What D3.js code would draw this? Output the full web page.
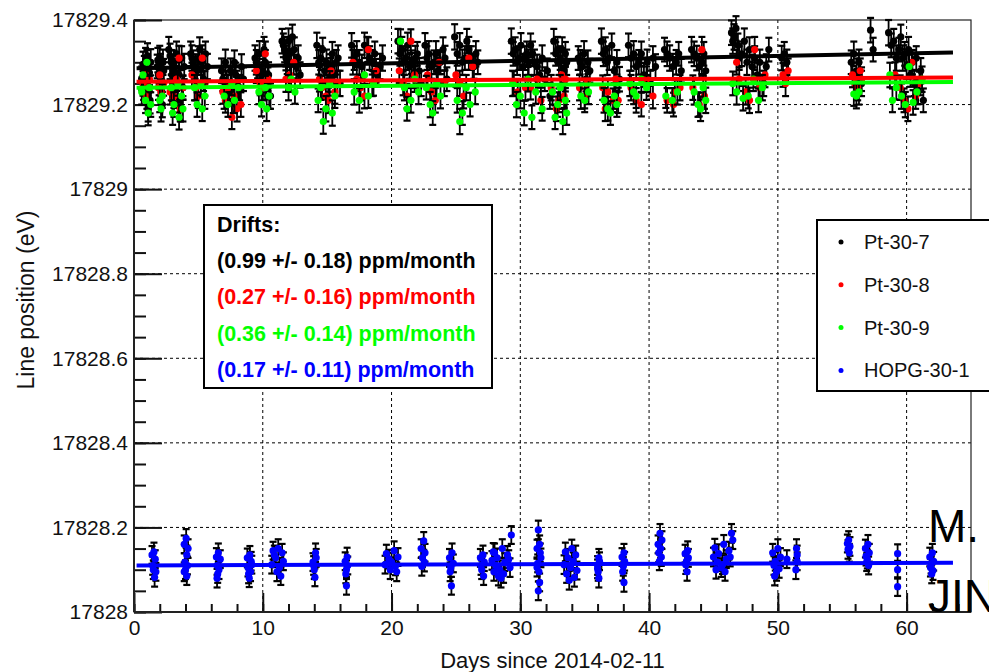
<!DOCTYPE html>
<html>
<head>
<meta charset="utf-8">
<script src="https://cdn.jsdelivr.net/npm/d3@7"></script>
<style>
  body { margin: 0; background: #fff; }
  svg { display: block; font-family: "Liberation Sans", Arial, sans-serif; }
</style>
</head>
<body>
<svg id="chart" width="989" height="672"></svg>
<script>
// Line positions: [day, eV above base, error in eV]
const PT_BASE = 17829;
const HOPG_BASE = 17828;

const pt307 = [
  [0.6,.262,.028],[0.8,.285,.030],[0.9,.305,.029],[1.0,.248,.028],[1.1,.190,.030],[1.2,.275,.029],[1.3,.300,.031],
  [0.7,.295,.030],[0.75,.240,.029],[0.95,.270,.028],[1.05,.315,.030],[1.15,.230,.029],[1.25,.210,.031],
  [1.8,.290,.028],[1.9,.270,.030],[2.0,.310,.029],[2.2,.200,.030],[2.3,.280,.028],
  [1.85,.305,.029],[1.95,.250,.028],[2.05,.290,.030],[2.15,.230,.029],[2.25,.300,.030],
  [2.7,.330,.030],[2.9,.300,.029],[3.0,.280,.028],[3.2,.250,.030],[3.4,.210,.029],[3.6,.190,.030],[3.7,.310,.028],[3.9,.290,.030],
  [2.8,.315,.029],[2.95,.270,.030],[3.1,.300,.028],[3.3,.320,.029],[3.5,.270,.030],[3.8,.240,.029],
  [4.4,.320,.029],[4.6,.300,.028],[4.9,.280,.030],[5.1,.330,.029],[5.4,.260,.028],[5.7,.290,.030],
  [4.5,.310,.030],[4.75,.290,.029],[5.0,.310,.028],[5.25,.300,.030],[5.55,.320,.029],
  [6.8,.280,.029],[7.1,.300,.030],[7.4,.230,.028],[7.7,.210,.030],[7.9,.270,.029],[8.2,.240,.030],[8.5,.260,.028],
  [6.9,.260,.028],[7.2,.250,.030],[7.5,.280,.029],[7.8,.300,.028],[8.0,.250,.030],[8.35,.290,.029],
  [9.4,.310,.030],[9.6,.290,.028],[9.9,.270,.029],[10.1,.330,.030],[10.3,.250,.028],[10.6,.220,.030],
  [9.5,.300,.029],[9.75,.320,.030],[10.0,.280,.028],[10.2,.300,.029],[10.45,.270,.030],
  [11.5,.350,.029],[11.7,.330,.030],[11.9,.300,.028],[12.1,.320,.030],[12.3,.360,.029],[12.6,.290,.028],[12.9,.270,.030],
  [11.6,.340,.028],[11.8,.310,.029],[12.0,.350,.030],[12.2,.300,.028],[12.45,.330,.029],[12.75,.310,.030],
  [14.2,.340,.030],[14.5,.310,.028],[14.8,.280,.029],[15.1,.260,.030],[15.4,.320,.028],[15.7,.300,.029],[16.0,.250,.030],
  [14.35,.300,.029],[14.65,.330,.028],[14.95,.300,.030],[15.25,.290,.029],[15.55,.270,.028],[15.85,.310,.030],
  [16.9,.340,.029],[17.3,.320,.030],[17.7,.290,.028],[18.1,.330,.030],[18.5,.300,.029],[18.9,.270,.028],[19.3,.310,.030],
  [17.1,.310,.028],[17.5,.300,.029],[17.9,.340,.030],[18.3,.310,.028],[18.7,.320,.029],[19.1,.290,.030],
  [20.5,.350,.029],[20.8,.330,.030],[21.1,.310,.028],[21.4,.290,.029],[21.7,.270,.030],[22.0,.320,.028],[22.3,.250,.030],
  [20.65,.320,.028],[20.95,.300,.029],[21.25,.340,.030],[21.55,.300,.028],[21.85,.310,.029],[22.15,.280,.030],
  [22.6,.340,.029],[22.9,.320,.030],[23.3,.300,.028],[23.6,.280,.030],[24.0,.330,.029],[24.3,.260,.028],
  [22.75,.310,.028],[23.1,.290,.029],[23.45,.320,.030],[23.8,.300,.028],[24.15,.310,.029],
  [24.9,.360,.030],[25.3,.340,.029],[25.7,.310,.028],[26.0,.330,.030],[26.4,.290,.029],[26.7,.300,.028],
  [25.1,.320,.028],[25.5,.300,.030],[25.85,.350,.029],[26.2,.310,.028],[26.55,.320,.030],
  [29.3,.350,.030],[29.6,.330,.029],[29.9,.310,.028],[30.2,.290,.030],[30.5,.320,.029],[30.8,.340,.028],[31.1,.300,.030],[31.5,.270,.029],[31.9,.260,.028],[32.3,.220,.030],
  [29.45,.320,.028],[29.75,.300,.030],[30.05,.340,.029],[30.35,.310,.028],[30.65,.300,.030],[30.95,.320,.029],[31.3,.290,.028],[31.7,.310,.030],[32.1,.280,.029],
  [32.6,.350,.029],[32.9,.330,.030],[33.1,.310,.028],[33.4,.280,.029],[33.6,.300,.030],
  [32.75,.320,.028],[33.0,.300,.030],[33.25,.330,.029],[33.5,.320,.028],
  [34.5,.310,.028],[34.8,.290,.030],[35.1,.260,.029],[35.4,.280,.028],
  [34.65,.300,.029],[34.95,.320,.030],[35.25,.300,.028],
  [36.3,.350,.030],[36.6,.330,.029],[36.9,.310,.028],[37.3,.280,.030],[37.7,.260,.029],
  [36.45,.320,.029],[36.75,.300,.030],[37.1,.340,.028],[37.5,.300,.029],
  [38.4,.340,.028],[38.8,.320,.030],[39.2,.300,.029],[39.6,.270,.028],[40.1,.250,.030],[40.5,.290,.029],
  [38.6,.310,.030],[39.0,.290,.028],[39.4,.320,.029],[39.85,.300,.030],[40.3,.310,.028],
  [41.2,.330,.028],[41.6,.310,.030],[42.1,.300,.029],[42.5,.280,.028],
  [41.4,.320,.029],[41.85,.290,.030],[42.3,.320,.028],
  [43.3,.330,.030],[43.7,.310,.029],[44.1,.300,.028],[44.4,.280,.030],
  [43.5,.320,.029],[43.9,.290,.030],[44.25,.320,.028],
  [46.4,.370,.029],[46.6,.360,.030],[46.9,.340,.028],[47.2,.320,.029],[47.6,.300,.030],[48.0,.290,.028],[48.4,.270,.029],[48.9,.250,.030],[49.3,.330,.028],
  [46.5,.350,.030],[46.75,.380,.029],[47.0,.310,.028],[47.4,.350,.030],[47.8,.330,.029],[48.2,.310,.028],[48.6,.300,.030],[49.1,.290,.029],
  [50.3,.310,.029],[50.5,.320,.028],[50.7,.300,.030],
  [55.7,.300,.028],[55.9,.320,.029],[56.1,.280,.029],[56.3,.300,.030],[56.5,.250,.030],
  [57.2,.376,.029],[57.4,.330,.028],
  [58.6,.370,.030],[59.0,.350,.029],[59.4,.330,.028],[59.7,.310,.030],[60.0,.290,.029],[60.3,.270,.028],[60.6,.250,.030],[60.9,.230,.029],[61.3,.210,.028],
  [58.8,.340,.028],[59.2,.310,.030],[59.55,.360,.029],[59.85,.320,.028],[60.15,.330,.030],[60.45,.300,.029],[60.75,.310,.028],[61.1,.280,.030]
];

const pt308 = [
  [1.1,.240,.028],[0.7,.250,.029],[1.2,.260,.029],[0.9,.270,.028],[1.0,.220,.030],
  [2.3,.250,.029],[1.9,.240,.029],[2.1,.230,.028],[2.0,.270,.030],
  [3.5,.310,.029],[2.8,.230,.030],[3.8,.240,.028],[3.0,.210,.030],[3.6,.190,.029],[3.1,.220,.028],[3.3,.260,.028],
  [5.3,.310,.030],[4.5,.270,.029],[5.5,.250,.029],[4.8,.240,.030],[5.0,.220,.028],
  [7.8,.220,.030],[6.9,.230,.028],[8.3,.200,.029],[7.1,.210,.029],[7.6,.170,.028],[8.0,.190,.030],[7.3,.240,.030],
  [10.2,.320,.029],[9.5,.280,.029],[10.4,.260,.028],[9.8,.250,.028],[10.0,.240,.030],
  [12.4,.300,.029],[11.8,.260,.030],[12.1,.270,.028],
  [15.3,.280,.030],[14.4,.260,.029],[15.8,.250,.029],[14.6,.240,.028],[15.6,.230,.028],[14.9,.220,.030],[15.1,.210,.030],
  [18.2,.330,.029],[17.0,.300,.029],[18.8,.280,.028],[17.3,.260,.028],[18.5,.250,.030],[17.6,.240,.030],[17.9,.220,.029],
  [21.5,.350,.028],[20.6,.280,.029],[21.8,.270,.030],[20.9,.250,.028],[21.2,.220,.029],
  [23.7,.300,.028],[22.8,.270,.030],[24.1,.250,.030],[23.1,.230,.029],[23.4,.210,.029],
  [26.0,.310,.028],[25.0,.270,.028],[26.3,.290,.030],[25.3,.250,.030],[25.6,.220,.029],
  [30.8,.240,.028],[29.5,.250,.029],[31.6,.210,.030],[29.8,.230,.028],[31.3,.260,.029],[30.4,.240,.030],
  [33.2,.270,.028],[32.4,.240,.030],[33.5,.260,.029],[32.8,.190,.029],[33.0,.210,.028],[33.4,.220,.028],
  [35.2,.250,.030],[34.6,.240,.030],[35.0,.220,.029],
  [37.4,.260,.028],[36.4,.240,.029],[37.6,.210,.030],[36.6,.190,.029],[37.2,.210,.028],[36.8,.230,.028],
  [39.8,.260,.030],[38.6,.240,.030],[40.3,.220,.029],[39.0,.210,.029],[39.4,.200,.028],
  [42.4,.240,.030],[41.4,.210,.029],[42.0,.230,.028],[41.9,.200,.028],
  [44.1,.330,.030],[43.4,.240,.029],[44.3,.220,.030],[43.9,.200,.028],
  [48.2,.330,.030],[46.8,.300,.029],[49.0,.270,.029],[47.0,.260,.028],[48.6,.240,.028],[47.5,.230,.030],[47.8,.210,.030],
  [50.8,.280,.029],[50.4,.270,.028],[50.6,.250,.030],
  [56.4,.280,.029],[55.8,.270,.029],[56.5,.260,.028],[56.0,.250,.028],[56.2,.240,.030],
  [60.4,.300,.029],[59.1,.270,.030],[61.0,.250,.028],[59.5,.240,.029],[60.7,.220,.030],[59.8,.210,.028],[60.1,.190,.029]
];

const pt309 = [
  [1.0,.300,.029],[0.7,.270,.028],[1.2,.240,.028],[0.6,.230,.030],[0.9,.210,.030],[1.3,.200,.029],[1.1,.180,.029],
  [2.2,.220,.028],[2.0,.210,.028],[2.1,.190,.030],
  [3.4,.250,.029],[2.9,.240,.030],[3.7,.220,.028],[3.1,.200,.029],[3.8,.190,.030],[3.0,.180,.028],[3.5,.170,.029],
  [5.2,.250,.028],[4.7,.240,.030],[5.5,.220,.030],[4.9,.200,.029],[5.3,.190,.029],
  [7.6,.250,.028],[8.1,.240,.028],[7.0,.220,.030],[7.8,.210,.030],[7.3,.200,.029],
  [10.2,.240,.028],[9.7,.230,.029],[10.5,.220,.030],[9.9,.200,.028],[10.3,.190,.029],
  [12.5,.230,.028],[12.0,.240,.030],[12.2,.260,.030],
  [15.2,.250,.029],[14.5,.240,.029],[15.6,.220,.028],[14.3,.210,.028],[14.9,.190,.030],[15.4,.180,.030],[14.7,.160,.029],
  [17.9,.270,.028],[18.6,.250,.029],[17.1,.230,.030],[18.2,.220,.028],[17.5,.210,.029],
  [20.7,.350,.028],[21.8,.260,.030],[21.0,.240,.030],[22.1,.230,.029],[21.5,.210,.029],[21.2,.190,.028],
  [23.5,.250,.030],[22.7,.240,.028],[23.8,.220,.029],[23.0,.200,.030],[23.2,.180,.028],
  [25.8,.240,.030],[26.5,.230,.029],[25.1,.210,.029],[26.1,.200,.028],[25.5,.180,.028],[25.3,.160,.030],
  [30.6,.260,.029],[29.4,.250,.030],[31.2,.230,.028],[30.0,.220,.029],[29.7,.200,.030],[31.7,.190,.028],[30.3,.180,.029],[30.9,.170,.028],
  [33.1,.240,.030],[32.5,.230,.030],[33.5,.210,.029],[32.9,.200,.029],[33.6,.180,.028],[32.7,.170,.028],[33.3,.160,.030],
  [35.3,.230,.029],[34.7,.220,.030],[35.0,.210,.028],
  [37.3,.220,.030],[36.5,.210,.029],[37.5,.200,.029],[36.8,.190,.028],[37.0,.180,.028],
  [39.4,.260,.030],[38.5,.250,.030],[39.8,.240,.029],[38.8,.230,.029],[39.0,.220,.028],
  [42.2,.230,.030],[41.3,.220,.028],[41.8,.210,.029],
  [44.2,.240,.028],[43.5,.230,.030],[44.4,.210,.030],[43.8,.200,.029],[44.0,.190,.029],
  [48.1,.260,.028],[46.5,.250,.028],[48.8,.240,.030],[46.8,.230,.030],[47.7,.220,.029],[47.3,.215,.029],[48.5,.210,.028],
  [56.3,.230,.030],[55.9,.225,.028],[56.1,.220,.029],
  [60.2,.290,.028],[58.7,.270,.029],[61.2,.260,.030],[59.2,.240,.028],[60.8,.230,.029],[59.6,.220,.030],[58.9,.210,.028],[60.5,.205,.029],[59.9,.200,.030]
];

const hopg301 = [
  [1.55,.142,.022],[1.4,.135,.021],[1.65,.125,.021],[1.45,.110,.022],[1.7,.095,.021],[1.5,.100,.022],[1.6,.082,.022],
  [4.05,.174,.022],[4.2,.150,.022],[3.9,.160,.021],[4.1,.135,.022],[3.95,.118,.021],[4.15,.110,.021],[4.0,.100,.022],[4.1,.085,.021],[3.9,.095,.022],
  [6.55,.140,.022],[6.4,.130,.021],[6.7,.125,.021],[6.45,.110,.022],[6.5,.090,.021],[6.6,.100,.022],[6.45,.080,.022],
  [9.0,.135,.021],[8.8,.128,.022],[9.1,.120,.022],[8.85,.105,.021],[9.15,.112,.021],[8.9,.090,.022],[9.05,.095,.022],[8.95,.080,.021],
  [11.2,.150,.022],[10.8,.145,.021],[11.5,.140,.021],[10.9,.135,.022],[11.0,.128,.022],[11.6,.120,.021],[10.7,.112,.021],[11.3,.105,.022],[11.1,.095,.022],[11.4,.085,.021],
  [14.1,.140,.022],[13.9,.118,.021],[14.15,.128,.021],[14.0,.100,.022],[13.95,.110,.022],[14.05,.082,.021],
  [16.55,.130,.022],[16.4,.120,.021],[16.6,.110,.021],[16.45,.090,.022],[16.5,.062,.021],[16.5,.100,.022],
  [20.2,.145,.022],[19.6,.138,.021],[20.5,.130,.021],[19.8,.125,.022],[20.0,.118,.022],[19.5,.112,.021],[20.3,.108,.021],[19.9,.100,.022],[20.4,.095,.022],
  [22.5,.168,.021],[22.3,.150,.022],[22.6,.140,.021],[22.4,.128,.021],[22.55,.118,.022],[22.35,.108,.022],
  [24.7,.140,.022],[24.5,.128,.021],[24.8,.115,.021],[24.55,.095,.022],[24.6,.105,.022],[24.65,.062,.021],
  [27.1,.135,.022],[26.9,.128,.021],[27.2,.118,.021],[27.0,.100,.022],[26.95,.110,.022],[27.15,.085,.021],
  [28.6,.150,.022],[27.9,.142,.021],[29.0,.135,.021],[28.2,.128,.022],[27.8,.122,.022],[28.8,.118,.021],[28.1,.110,.021],[29.2,.105,.022],
  [28.4,.100,.022],[27.95,.095,.021],[28.7,.090,.021],[28.3,.085,.022],[28.5,.080,.022],[29.1,.125,.021],[28.0,.140,.022],[29.3,.182,.021],
  [31.4,.194,.022],[31.5,.160,.021],[31.3,.150,.021],[31.55,.140,.022],[31.35,.115,.021],[31.6,.128,.022],[31.45,.095,.022],[31.3,.105,.021],[31.5,.070,.021],[31.4,.050,.022],
  [34.0,.150,.021],[33.5,.142,.022],[34.3,.135,.022],[33.7,.128,.021],[34.1,.120,.021],[33.4,.112,.022],[33.9,.105,.022],[34.4,.098,.021],[33.6,.090,.021],[34.2,.082,.022],[33.8,.075,.022],
  [36.1,.128,.021],[36.0,.110,.022],[36.15,.120,.021],[36.05,.095,.021],[36.0,.102,.022],[36.1,.080,.022],
  [38.05,.140,.021],[37.9,.130,.021],[38.1,.120,.022],[37.95,.095,.021],[38.0,.108,.022],[38.05,.070,.022],
  [40.85,.186,.022],[41.0,.170,.021],[40.7,.160,.021],[40.9,.150,.022],[40.75,.140,.022],[40.95,.130,.021],[40.8,.120,.021],
  [43.0,.145,.022],[42.8,.138,.021],[43.05,.128,.021],[42.85,.112,.022],[42.9,.120,.022],[42.95,.095,.021],
  [45.8,.160,.022],[45.1,.152,.021],[46.2,.145,.021],[45.4,.138,.022],[45.0,.130,.022],[46.0,.125,.021],[45.3,.118,.021],[45.7,.112,.022],
  [45.6,.105,.022],[45.2,.100,.021],[45.9,.095,.021],[46.3,.130,.022],[46.4,.186,.022],[46.5,.170,.021],
  [50.0,.150,.022],[49.6,.140,.021],[50.2,.130,.021],[49.8,.120,.022],[49.7,.110,.022],[49.9,.095,.021],[50.1,.102,.021],[49.75,.085,.022],
  [50.7,.125,.021],
  [51.45,.150,.022],[51.5,.120,.021],[51.4,.100,.022],[51.5,.135,.022],
  [55.5,.170,.021],[55.4,.162,.021],[55.6,.155,.022],[55.45,.148,.022],[55.55,.140,.021],
  [57.0,.160,.022],[56.8,.150,.021],[57.1,.140,.021],[56.85,.132,.022],[56.95,.125,.022],[56.9,.118,.021],[57.05,.110,.021],
  [59.3,.138,.022],[59.3,.100,.021],[59.3,.060,.022],
  [62.0,.140,.021],[61.8,.130,.022],[62.1,.120,.022],[61.9,.112,.021],[61.85,.105,.021],[62.05,.098,.022],[61.95,.090,.022]
];

const seriesNames   = ["Pt-30-7", "Pt-30-8", "Pt-30-9", "HOPG-30-1"];
const seriesColors  = ["#000000", "#ff0000", "#00ff00", "#0000ff"];
const seriesBases   = [PT_BASE, PT_BASE, PT_BASE, HOPG_BASE];
const seriesData    = [pt307, pt308, pt309, hopg301];

// Linear drift fits: value at day 0 and slope in ppm/month
const fitIntercepts = [17829.286, 17829.254, 17829.240, 17828.110];
const driftValues   = [0.99, 0.27, 0.36, 0.17];
const driftErrors   = [0.18, 0.16, 0.14, 0.11];
const fitRange      = [0.2, 63.6];
const DAYS_PER_MONTH = 30.44;

const xTicks = [0, 10, 20, 30, 40, 50, 60];
const yTicks = [17828, 17828.2, 17828.4, 17828.6, 17828.8, 17829, 17829.2, 17829.4];

const W = 989, H = 672;
const margin = { left: 134, top: 20, right: 18, bottom: 60 };
const x = d3.scaleLinear().domain([0, 65]).range([margin.left, W - margin.right]);
const y = d3.scaleLinear().domain([17828, 17829.4]).range([H - margin.bottom, margin.top]);

const svg = d3.select("#chart");
svg.append("rect").attr("width", W).attr("height", H).attr("fill", "#fff");

// grid
const grid = svg.append("g").attr("stroke", "#000").attr("stroke-width", 1).attr("stroke-dasharray", "3,3");
grid.selectAll(".gx").data(xTicks.filter(t => t > 0)).join("line")
  .attr("x1", d => x(d)).attr("x2", d => x(d))
  .attr("y1", y.range()[1]).attr("y2", y.range()[0]);
grid.selectAll(".gy").data(yTicks.filter(t => t > 17828 && t < 17829.4)).join("line")
  .attr("y1", d => y(d)).attr("y2", d => y(d))
  .attr("x1", x.range()[0]).attr("x2", x.range()[1]);

// frame
svg.append("rect")
  .attr("x", x.range()[0]).attr("y", y.range()[1])
  .attr("width", x.range()[1] - x.range()[0]).attr("height", y.range()[0] - y.range()[1])
  .attr("fill", "none").attr("stroke", "#222").attr("stroke-width", 1.2);

// axes
const yAxis = svg.append("g").attr("transform", `translate(${x.range()[0]},0)`)
  .call(d3.axisLeft(y).tickValues(yTicks).tickSize(-28).tickPadding(6)
    .tickFormat(d => String(+d.toFixed(1))));
const yMinor = svg.append("g").attr("transform", `translate(${x.range()[0]},0)`)
  .call(d3.axisLeft(y).tickValues(d3.range(0, 29).map(i => 17828 + i * 0.05)).tickSize(-12).tickFormat(""));
const xAxis = svg.append("g").attr("transform", `translate(0,${y.range()[0]})`)
  .call(d3.axisBottom(x).tickValues(xTicks).tickSize(-19).tickPadding(8));
const xMinor = svg.append("g").attr("transform", `translate(0,${y.range()[0]})`)
  .call(d3.axisBottom(x).tickValues(d3.range(0, 33).map(i => i * 2)).tickSize(-8).tickFormat(""));

[yAxis, yMinor, xAxis, xMinor].forEach(g => {
  g.select(".domain").remove();
  g.selectAll("line").attr("stroke", "#111").attr("stroke-width", 2);
  g.selectAll("text").attr("font-size", 21).attr("fill", "#111")
    .attr("font-family", '"Liberation Sans", Arial, sans-serif');
});
// axis lines
svg.append("line").attr("x1", x.range()[0]).attr("x2", x.range()[0])
  .attr("y1", y.range()[1]).attr("y2", y.range()[0]).attr("stroke", "#222").attr("stroke-width", 2);
svg.append("line").attr("x1", x.range()[0]).attr("x2", x.range()[1])
  .attr("y1", y.range()[0]).attr("y2", y.range()[0]).attr("stroke", "#222").attr("stroke-width", 2);

// axis titles
svg.append("text").attr("x", (x.range()[0] + x.range()[1]) / 2).attr("y", 668)
  .attr("text-anchor", "middle").attr("font-size", 22).attr("fill", "#111")
  .text("Days since 2014-02-11");
svg.append("text").attr("transform", `translate(34,300) rotate(-90)`)
  .attr("text-anchor", "middle").attr("font-size", 23).attr("fill", "#111")
  .text("Line position (eV)");

// data: error bars (black) and markers per series
const plot = svg.append("g");
seriesData.forEach((data, i) => {
  const base = seriesBases[i];
  const g = plot.append("g");
  const eb = g.append("g").attr("stroke", "#000").attr("stroke-width", 1.8);
  eb.selectAll("line.v").data(data).join("line")
    .attr("x1", d => x(d[0])).attr("x2", d => x(d[0]))
    .attr("y1", d => y(base + d[1] - d[2])).attr("y2", d => y(base + d[1] + d[2]));
  eb.selectAll("line.t").data(data).join("line").attr("stroke-width", 2.2)
    .attr("x1", d => x(d[0]) - 3.5).attr("x2", d => x(d[0]) + 3.5)
    .attr("y1", d => y(base + d[1] + d[2])).attr("y2", d => y(base + d[1] + d[2]));
  eb.selectAll("line.b").data(data).join("line").attr("stroke-width", 2.2)
    .attr("x1", d => x(d[0]) - 3.5).attr("x2", d => x(d[0]) + 3.5)
    .attr("y1", d => y(base + d[1] - d[2])).attr("y2", d => y(base + d[1] - d[2]));
  g.selectAll("circle").data(data).join("circle")
    .attr("cx", d => x(d[0])).attr("cy", d => y(base + d[1]))
    .attr("r", 3.6).attr("fill", seriesColors[i]);
});

// drift fit lines
seriesData.forEach((_, i) => {
  const slopePerDay = driftValues[i] * 1e-6 * fitIntercepts[i] / DAYS_PER_MONTH;
  const pts = fitRange.map(d => [d, fitIntercepts[i] + slopePerDay * d]);
  svg.append("line")
    .attr("x1", x(pts[0][0])).attr("y1", y(pts[0][1]))
    .attr("x2", x(pts[1][0])).attr("y2", y(pts[1][1]))
    .attr("stroke", seriesColors[i]).attr("stroke-width", 4);
});

// drift summary box
const drift = svg.append("g");
drift.append("rect").attr("x", 204).attr("y", 205).attr("width", 288).attr("height", 183)
  .attr("fill", "#fff").attr("stroke", "#000").attr("stroke-width", 2);
drift.append("text").attr("x", 217).attr("y", 232).attr("font-size", 21.5)
  .attr("font-weight", "bold").attr("fill", "#000").text("Drifts:");
driftValues.forEach((v, i) => {
  drift.append("text").attr("x", 217).attr("y", 268 + i * 36.3)
    .attr("font-size", 21.5).attr("font-weight", "bold").attr("fill", seriesColors[i])
    .text(`(${v.toFixed(2)} +/- ${driftErrors[i].toFixed(2)}) ppm/month`);
});

// legend
const leg = svg.append("g");
leg.append("rect").attr("x", 817).attr("y", 220).attr("width", 200).attr("height", 171)
  .attr("fill", "#fff").attr("stroke", "#000").attr("stroke-width", 2);
seriesNames.forEach((n, i) => {
  const cy = 242 + i * 42.8;
  leg.append("circle").attr("cx", 841).attr("cy", cy).attr("r", 2.5).attr("fill", seriesColors[i]);
  leg.append("text").attr("x", 864).attr("y", cy + 7).attr("font-size", 20).attr("fill", "#111").text(n);
});

// author tag
svg.append("text").attr("x", 928).attr("y", 542).attr("font-size", 46).attr("fill", "#000").text("M.");
svg.append("text").attr("x", 928).attr("y", 612).attr("font-size", 46).attr("fill", "#000").text("JIN");
</script>
</body>
</html>
